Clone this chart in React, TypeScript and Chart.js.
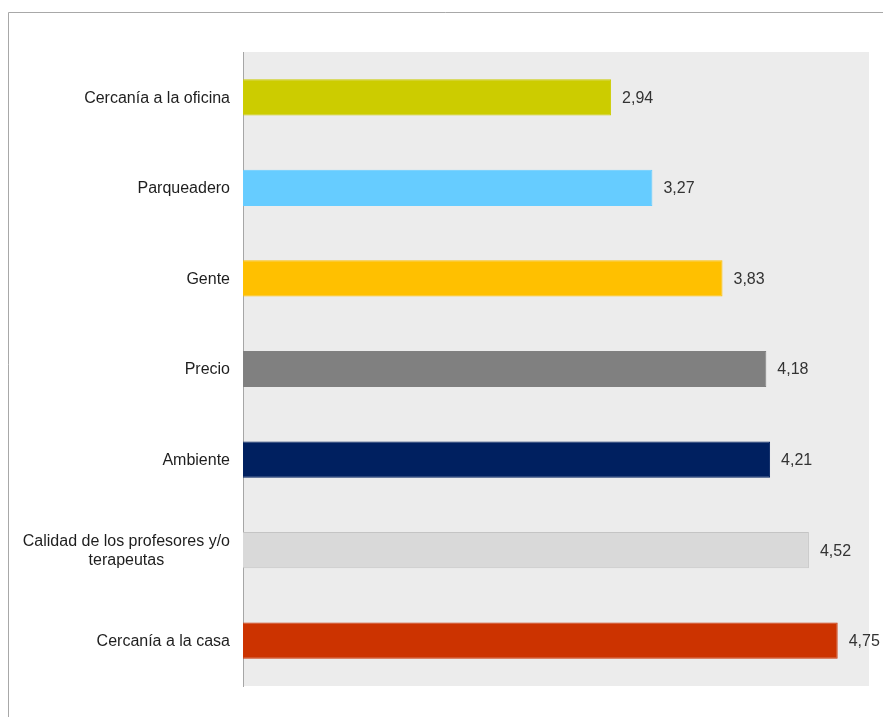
import React, { useEffect, useRef } from "react";
import { Chart, registerables } from "chart.js";

Chart.register(...registerables);

const categories: (string | string[])[] = [
  "Cercanía a la oficina",
  "Parqueadero",
  "Gente",
  "Precio",
  "Ambiente",
  ["Calidad de los profesores y/o", "terapeutas"],
  "Cercanía a la casa",
];
const values = [2.94, 3.27, 3.83, 4.18, 4.21, 4.52, 4.75];
const barColors = ["#cccc00", "#66ccff", "#ffc000", "#808080", "#002060", "#d9d9d9", "#cc3300"];
const borderColors = ["#cccc00", "#66ccff", "#ffc000", "#808080", "#002060", "#c4c4c4", "#cc3300"];
const xMin = 0;
const xMax = 5;

const FONT = "'Liberation Sans', Arial, sans-serif";

export default function App() {
  const ref = useRef<HTMLCanvasElement>(null);
  useEffect(() => {
    document.body.style.margin = "0";
    const canvas = ref.current!;
    const framePlugin = {
      id: "frame",
      beforeDraw(chart: any) {
        const { ctx, chartArea } = chart;
        ctx.save();
        ctx.fillStyle = "#ffffff";
        ctx.fillRect(0, 0, chart.width, chart.height);
        ctx.strokeStyle = "#a8a8a8";
        ctx.lineWidth = 1;
        ctx.beginPath();
        ctx.moveTo(8.5, chart.height);
        ctx.lineTo(8.5, 12.5);
        ctx.lineTo(chart.width, 12.5);
        ctx.stroke();
        ctx.fillStyle = "#ececec";
        ctx.fillRect(chartArea.left, chartArea.top, chartArea.right - chartArea.left, chartArea.bottom - chartArea.top);
        ctx.restore();
      },
      afterDatasetsDraw(chart: any) {
        const { ctx } = chart;
        const meta = chart.getDatasetMeta(0);
        ctx.save();
        ctx.font = `16px ${FONT}`;
        ctx.fillStyle = "#333333";
        ctx.textBaseline = "middle";
        ctx.textAlign = "left";
        meta.data.forEach((bar: any, i: number) => {
          ctx.fillText(values[i].toFixed(2).replace(".", ","), bar.x + 11, bar.y + 1);
        });
        // category labels
        const yScale = chart.scales.y;
        const right = yScale.right - 13;
        ctx.fillStyle = "#1e1e1e";
        categories.forEach((c, i) => {
          const y = yScale.getPixelForTick(i);
          if (Array.isArray(c)) {
            const widths = c.map((l) => ctx.measureText(l).width);
            const maxW = Math.max(...widths);
            const cx = right - maxW / 2;
            ctx.textAlign = "center";
            const lh = 19;
            c.forEach((l, j) => {
              ctx.fillText(l, cx, y + (j - (c.length - 1) / 2) * lh + 1);
            });
          } else {
            ctx.textAlign = "right";
            ctx.fillText(c, right, y + 1);
          }
        });
        ctx.restore();
      },
    };
    const chart = new Chart(canvas, {
      type: "bar",
      data: {
        labels: categories as any,
        datasets: [
          {
            data: values,
            backgroundColor: barColors,
            borderColor: borderColors,
            borderWidth: 1,
            categoryPercentage: 1,
            barPercentage: 0.4,
          },
        ],
      },
      options: {
        indexAxis: "y",
        animation: false,
        responsive: false,
        maintainAspectRatio: false,
        layout: { padding: { left: 0, top: 52, right: 14, bottom: 31 } },
        plugins: { legend: { display: false }, tooltip: { enabled: false } },
        scales: {
          x: {
            min: xMin,
            max: xMax,
            display: false,
          },
          y: {
            grid: { display: false, drawTicks: false },
            border: { display: true, color: "#a6a6a6", width: 1 },
            ticks: { display: false },
            afterFit(scale: any) {
              scale.width = 243;
            },
          },
        },
      },
      plugins: [framePlugin],
    });
    return () => chart.destroy();
  }, []);
  return (
    <div style={{ position: "absolute", left: 0, top: 0, width: 883, height: 717 }}>
      <canvas ref={ref} width={883} height={717} style={{ display: "block", width: 883, height: 717 }} />
    </div>
  );
}
